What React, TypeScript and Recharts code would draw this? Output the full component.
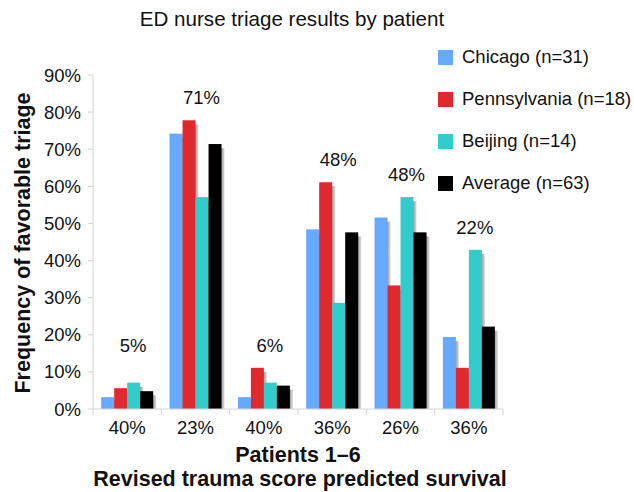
import React from "react";
import { ComposedChart, Bar, Line, XAxis, YAxis, LabelList, Label } from "recharts";

const patients = ["Patient 1", "Patient 2", "Patient 3", "Patient 4", "Patient 5", "Patient 6"];
const survival = ["40%", "23%", "40%", "36%", "26%", "36%"];
const chicago = [3.2, 74.2, 3.2, 48.4, 51.6, 19.4];
const pennsylvania = [5.6, 77.8, 11.1, 61.1, 33.3, 11.1];
const beijing = [7.1, 57.1, 7.1, 28.6, 57.1, 42.9];
const average = [4.8, 71.4, 6.3, 47.6, 47.6, 22.2];
const groupLabels = ["5%", "71%", "6%", "48%", "48%", "22%"];
const yTicks = [0, 10, 20, 30, 40, 50, 60, 70, 80, 90];

const series = [
  { key: "chicago", name: "Chicago (n=31)", color: "#66aaff" },
  { key: "pennsylvania", name: "Pennsylvania (n=18)", color: "#e0292f" },
  { key: "beijing", name: "Beijing (n=14)", color: "#33cccc" },
  { key: "average", name: "Average (n=63)", color: "#000000" },
];

const data = patients.map((p, i) => {
  const mx = Math.max(chicago[i], pennsylvania[i], beijing[i], average[i]);
  return {
    patient: p,
    chicago: chicago[i],
    pennsylvania: pennsylvania[i],
    beijing: beijing[i],
    average: average[i],
    labelText: groupLabels[i],
    labelPos: Math.max(mx + 5.5, 16.5),
  };
});

const FONT = "'Liberation Sans', Arial, Helvetica, sans-serif";
const AXIS_GRAY = "#d4d4d4";
const BAND = (634 - 93 - 131) / 6;

const ShadowBar = (props: any) => {
  const { x, y, width, height, fill } = props;
  if (height == null || height <= 0) return null;
  const sh = Math.max(height - 4, 0);
  return (
    <g>
      <rect x={x + 3} y={y + 4} width={width} height={sh} fill="url(#shadowGrad)" />
      <rect x={x} y={y} width={width} height={height} fill={fill} />
    </g>
  );
};

const XTick = (props: any) => {
  const { x, y, payload, index } = props;
  const half = BAND / 2;
  return (
    <g>
      <line x1={x - half} x2={x - half} y1={y - 8} y2={y - 2} stroke={AXIS_GRAY} strokeWidth={1} />
      {index === patients.length - 1 ? (
        <line x1={x + half} x2={x + half} y1={y - 8} y2={y - 2} stroke={AXIS_GRAY} strokeWidth={1} />
      ) : null}
      <text x={x} y={y + 17} textAnchor="middle" fontSize={18.5} fontFamily={FONT} fill="#111">
        {survival[index] ?? payload.value}
      </text>
    </g>
  );
};

const GroupLabel = (props: any) => {
  const { x, y, value } = props;
  if (x == null || y == null) return null;
  return (
    <text x={x + 6} y={y - 2} textAnchor="middle" dominantBaseline="central" fontSize={18.5} fontFamily={FONT} fill="#111">
      {value}
    </text>
  );
};

export default function App() {
  return (
    <div style={{ position: "absolute", left: 0, top: 0, width: 634, height: 492, background: "#fff" }}>
      <div
        style={{
          position: "absolute",
          left: 0,
          top: 7,
          width: 584,
          textAlign: "center",
          fontFamily: FONT,
          fontSize: 20.6,
          color: "#111",
          lineHeight: "24px",
        }}
      >
        ED nurse triage results by patient
      </div>
      <div
        style={{
          position: "absolute",
          left: 438,
          top: 36,
          fontFamily: FONT,
          fontSize: 18.5,
          color: "#111",
        }}
      >
        {series.map((s) => (
          <div key={s.key} style={{ display: "flex", alignItems: "center", height: 42 }}>
            <span style={{ display: "inline-block", width: 15, height: 15, background: s.color, marginRight: 9 }} />
            <span style={{ whiteSpace: "nowrap" }}>{s.name}</span>
          </div>
        ))}
      </div>
      <ComposedChart
        width={634}
        height={492}
        data={data}
        margin={{ top: 75, right: 131, bottom: 53, left: 0 }}
        barCategoryGap="12%"
        barGap={0}
      >
        <defs>
          <linearGradient id="shadowGrad" x1="0" y1="0" x2="1" y2="0">
            <stop offset="0%" stopColor="#5a5a5a" />
            <stop offset="70%" stopColor="#909090" />
            <stop offset="100%" stopColor="#dcdcdc" />
          </linearGradient>
        </defs>
        <XAxis
          dataKey="patient"
          height={30}
          axisLine={{ stroke: AXIS_GRAY }}
          tickLine={false}
          tick={<XTick />}
          interval={0}
        >
          <Label
            content={() => (
              <g>
                <text x={298} y={462} textAnchor="middle" fontSize={21.5} fontWeight="bold" fontFamily={FONT} fill="#111">
                  Patients 1–6
                </text>
                <text x={300} y={486} textAnchor="middle" fontSize={21.5} fontWeight="bold" fontFamily={FONT} fill="#111">
                  Revised trauma score predicted survival
                </text>
              </g>
            )}
          />
        </XAxis>
        <YAxis
          width={93}
          domain={[0, 90]}
          ticks={yTicks}
          interval={0}
          tickFormatter={(v: number) => `${v}%`}
          axisLine={{ stroke: AXIS_GRAY }}
          tickLine={{ stroke: AXIS_GRAY }}
          tickSize={5}
          tickMargin={7}
          tick={{ fontSize: 18.5, fontFamily: FONT, fill: "#111" }}
        >
          <Label
            content={() => (
              <text
                x={30}
                y={243}
                transform="rotate(-90 30 243)"
                textAnchor="middle"
                fontSize={21.5}
                fontWeight="bold"
                fontFamily={FONT}
                fill="#111"
              >
                Frequency of favorable triage
              </text>
            )}
          />
        </YAxis>
        {series.map((s) => (
          <Bar
            key={s.key}
            dataKey={s.key}
            name={s.name}
            fill={s.color}
            shape={<ShadowBar />}
            isAnimationActive={false}
          />
        ))}
        <Line
          dataKey="labelPos"
          stroke="none"
          dot={false}
          activeDot={false}
          legendType="none"
          isAnimationActive={false}
        >
          <LabelList dataKey="labelText" content={<GroupLabel />} />
        </Line>
      </ComposedChart>
    </div>
  );
}
